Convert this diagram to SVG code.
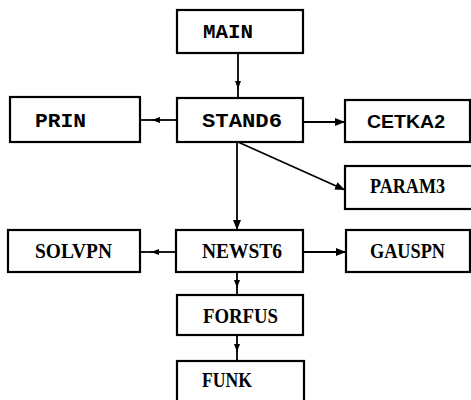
<svg xmlns="http://www.w3.org/2000/svg" width="471" height="400" viewBox="0 0 471 400">
<style>
.box{fill:#fff;stroke:#000;stroke-width:2.2}
.ln{fill:none;stroke:#000;stroke-width:1.8}
.mono{font-family:"Liberation Mono",monospace;font-weight:bold;font-size:21px}
.sans{font-family:"Liberation Sans",sans-serif;font-weight:bold;font-size:19px}
.serif{font-family:"Liberation Serif",serif;font-weight:bold;font-size:22px}
</style>
<defs>
<marker id="ah" viewBox="0 0 10 8" refX="10" refY="4" markerWidth="10" markerHeight="8" markerUnits="userSpaceOnUse" orient="auto">
<path d="M0,0 L10,4 L0,8 Z" fill="#000"/>
</marker>
<marker id="as" viewBox="0 0 8 6" refX="8" refY="3" markerWidth="8" markerHeight="6" markerUnits="userSpaceOnUse" orient="auto">
<path d="M0,0 L8,3 L0,6 Z" fill="#000"/>
</marker>
</defs>
<rect width="471" height="400" fill="#fff"/>
<g id="connectors">
<path class="ln" d="M238,53 L238,89" marker-end="url(#as)"/><path class="ln" d="M238,88 L238,98"/>
<path class="ln" d="M177,120 L152,120" marker-end="url(#as)"/><path class="ln" d="M153,120 L140,120"/>
<path class="ln" d="M303,122 L345,122" marker-end="url(#ah)"/>
<path class="ln" d="M238,142 L345,190" marker-end="url(#ah)"/>
<path class="ln" d="M237,142 L237,230" marker-end="url(#ah)"/>
<path class="ln" d="M176,252 L151,252" marker-end="url(#as)"/><path class="ln" d="M152,252 L140,252"/>
<path class="ln" d="M303,252 L346,252" marker-end="url(#ah)"/>
<path class="ln" d="M237,272 L237,288" marker-end="url(#as)"/><path class="ln" d="M237,287 L237,295"/>
<path class="ln" d="M237,335 L237,352" marker-end="url(#as)"/><path class="ln" d="M237,351 L237,361"/>
</g>
<g id="MAIN"><rect class="box" x="177" y="10" width="126" height="43"/><text class="mono" x="203" y="38" textLength="50" lengthAdjust="spacingAndGlyphs">MAIN</text></g>
<g id="STAND6"><rect class="box" x="177" y="98" width="126" height="44"/><text class="mono" x="202" y="127" textLength="80" lengthAdjust="spacingAndGlyphs">STAND6</text></g>
<g id="PRIN"><rect class="box" x="10" y="97" width="130" height="45"/><text class="mono" x="35" y="127" textLength="51" lengthAdjust="spacingAndGlyphs">PRIN</text></g>
<g id="CETKA2"><rect class="box" x="345" y="100" width="125" height="42"/><text class="sans" x="367" y="128" textLength="78" lengthAdjust="spacingAndGlyphs">CETKA2</text></g>
<g id="PARAM3"><rect class="box" x="345" y="166" width="130" height="43"/><text class="serif" x="370" y="193" textLength="75" lengthAdjust="spacingAndGlyphs">PARAM3</text></g>
<g id="NEWST6"><rect class="box" x="176" y="230" width="127" height="42"/><text class="serif" x="202" y="258" textLength="80" lengthAdjust="spacingAndGlyphs">NEWST6</text></g>
<g id="SOLVPN"><rect class="box" x="8" y="230" width="132" height="42"/><text class="serif" x="35" y="258" textLength="77" lengthAdjust="spacingAndGlyphs">SOLVPN</text></g>
<g id="GAUSPN"><rect class="box" x="346" y="230" width="124" height="42"/><text class="serif" x="370" y="258" textLength="75" lengthAdjust="spacingAndGlyphs">GAUSPN</text></g>
<g id="FORFUS"><rect class="box" x="177" y="295" width="126" height="40"/><text class="serif" x="203" y="323" textLength="75" lengthAdjust="spacingAndGlyphs">FORFUS</text></g>
<g id="FUNK"><rect class="box" x="177" y="361" width="127" height="50"/><text class="serif" x="202" y="387" textLength="50" lengthAdjust="spacingAndGlyphs">FUNK</text></g>
</svg>
